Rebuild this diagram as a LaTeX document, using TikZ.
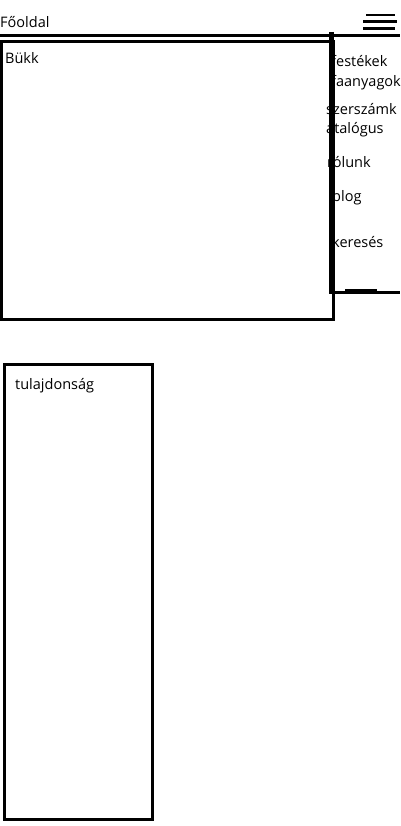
\documentclass[tikz,border=0pt]{standalone}
\usepackage{fontspec}
\setmainfont{Open Sans}
\begin{document}
\begin{tikzpicture}[x=1pt,y=-1pt,
  lbl/.style={anchor=base west,inner sep=0pt,font=\fontsize{14.5}{16}\selectfont,text=black},
  rule/.style={line width=3pt},
  box/.style={draw,line width=3pt}]
\useasboundingbox (0,0) rectangle (400,826);
% header
\node[lbl] (home) at (0,28) {Főoldal};
\draw[rule] (0,36) -- (400,36);
\draw[line width=2.6pt] (366,15) -- (395,15);
\draw[line width=2.6pt] (363,21.7) -- (397,21.7);
\draw[line width=2.6pt] (363,28.8) -- (395,28.8);
% main box
\draw[box] (1.4,41.2) rectangle (333.5,319.8);
\node[lbl] (bukk) at (5,64) {Bükk};
% menu
\node[lbl] (m1) at (331,67) {festékek};
\node[lbl] (m2) at (331,87) {faanyagok};
\node[lbl] (m3) at (326,115) {szerszámk};
\node[lbl] (m4) at (326,134) {atalógus};
\node[lbl] (m5) at (327,168) {rólunk};
\node[lbl] (m6) at (332,202) {blog};
\node[lbl] (m7) at (332,247) {keresés};
\draw[line width=5.5pt] (331.5,32) -- (331.5,293.5);
\draw[rule] (329,292.2) -- (400,292.2);
\draw[line width=2.4pt] (345,290) -- (376.5,290);
% lower box
\draw[box] (4,364) rectangle (152.5,819.5);
\node[lbl] (prop) at (15,389) {tulajdonság};
\end{tikzpicture}
\end{document}
